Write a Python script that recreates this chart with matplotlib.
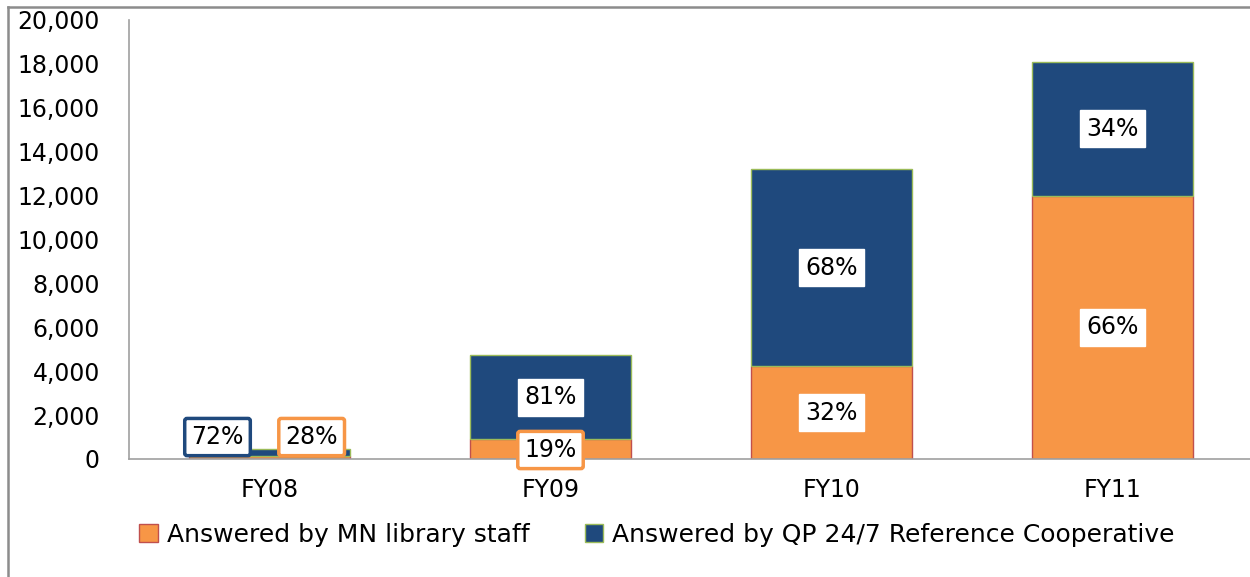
import numpy as np
import matplotlib.pyplot as plt
from matplotlib.lines import Line2D
from matplotlib.patches import Patch
from matplotlib.ticker import FuncFormatter

# data
years = ['FY08', 'FY09', 'FY10', 'FY11']
mn_staff = [130, 900, 4230, 12000]
qp_coop = [330, 3830, 8970, 6100]
mn_pct = ['28%', '19%', '32%', '66%']
qp_pct = ['72%', '81%', '68%', '34%']

orange = '#F79646'
orange_edge = '#C0504D'
blue = '#1F497D'
blue_edge = '#9BBB59'

plt.rcParams['font.family'] = 'DejaVu Sans'
fs = 17

fig = plt.figure(figsize=(12.5, 5.77), dpi=100)
ax = fig.add_axes([129 / 1250, 118 / 577, 1124 / 1250, 439 / 577])

x = np.arange(len(years))
w = 0.57
ax.bar(x, mn_staff, w, color=orange, edgecolor=orange_edge, linewidth=1,
       label='Answered by MN library staff')
ax.bar(x, qp_coop, w, bottom=mn_staff, color=blue, edgecolor=blue_edge, linewidth=1,
       label='Answered by QP 24/7 Reference Cooperative')

ax.set_xlim(-0.5, len(years) - 0.5)
ax.set_ylim(0, 20000)
ax.set_yticks(np.arange(0, 20001, 2000))
ax.yaxis.set_major_formatter(FuncFormatter(lambda v, p: f'{int(v):,}'))
ax.set_xticks(x)
ax.set_xticklabels(years)
ax.tick_params(axis='y', length=0, pad=21, labelsize=fs)
ax.tick_params(axis='x', length=0, pad=14, labelsize=fs)

for s in ['top', 'right']:
    ax.spines[s].set_visible(False)
for s in ['left', 'bottom']:
    ax.spines[s].set_color('#A0A0A0')
    ax.spines[s].set_linewidth(1.2)

plain = dict(boxstyle='square,pad=0.28', fc='white', ec='white')
for i in range(len(years)):
    mn_y = mn_staff[i] / 2
    qp_y = mn_staff[i] + qp_coop[i] / 2
    if i == 0:
        # tiny bar: labels pulled out with coloured borders
        ax.text(i - 0.185, 1000, qp_pct[i], ha='center', va='center', fontsize=fs,
                bbox=dict(boxstyle='round,pad=0.28,rounding_size=0.1', fc='white', ec=blue, lw=2.5))
        ax.text(i + 0.15, 1000, mn_pct[i], ha='center', va='center', fontsize=fs,
                bbox=dict(boxstyle='round,pad=0.28,rounding_size=0.1', fc='white', ec=orange, lw=2.5))
    elif i == 1:
        ax.text(i, qp_y, qp_pct[i], ha='center', va='center', fontsize=fs, bbox=plain)
        ax.text(i, 410, mn_pct[i], ha='center', va='center', fontsize=fs,
                bbox=dict(boxstyle='round,pad=0.28,rounding_size=0.1', fc='white', ec=orange, lw=2.5))
    else:
        ax.text(i, qp_y, qp_pct[i], ha='center', va='center', fontsize=fs, bbox=plain)
        ax.text(i, mn_y, mn_pct[i], ha='center', va='center', fontsize=fs, bbox=plain)

handles = [Patch(facecolor=orange, edgecolor=orange_edge, label='Answered by MN library staff'),
           Patch(facecolor=blue, edgecolor=blue_edge, label='Answered by QP 24/7 Reference Cooperative')]
fig.legend(handles=handles, loc='center', bbox_to_anchor=(657 / 1250, 1 - 535 / 577),
           ncol=2, frameon=False, fontsize=18, handlelength=0.75, handleheight=0.75,
           handletextpad=0.35, columnspacing=2.2)

# outer frame of the cropped chart area
fig.add_artist(Line2D([7.5 / 1250, 7.5 / 1250], [0, 1 - 6.5 / 577], transform=fig.transFigure,
                      color='#8C8C8C', lw=1.8))
fig.add_artist(Line2D([7.5 / 1250, 1], [1 - 6.5 / 577, 1 - 6.5 / 577], transform=fig.transFigure,
                      color='#8C8C8C', lw=1.8))

fig.savefig('out.png', dpi=100)
